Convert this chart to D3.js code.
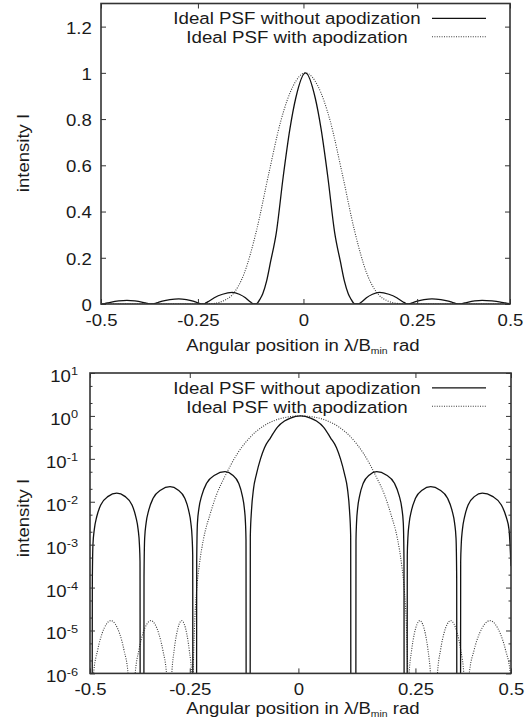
<!DOCTYPE html>
<html>
<head>
<meta charset="utf-8">
<script src="https://cdn.jsdelivr.net/npm/d3@7"></script>
<style>
body{margin:0;background:#fff}
svg text{font-family:"Liberation Sans",Arial,Helvetica,sans-serif;fill:#1a1a1a}
</style>
</head>
<body>
<svg id="chart" width="529" height="723"></svg>
<script>
// values
var xTickPos = [-0.5, -0.263, -0.005, 0.273, 0.5]
var xTickLabels = ["-0.5","-0.25","0","0.25","0.5"]
var linTicks = [0,0.2,0.4,0.6,0.8,1,1.2]
var linTickLabels = ["0","0.2","0.4","0.6","0.8","1","1.2"]
var logExps = [1,0,-1,-2,-3,-4,-5,-6]
var logMinor = [2,5]
var seriesNames = ["Ideal PSF without apodization","Ideal PSF with apodization"]

// angular position, and log10 of the intensity
var posNoApod = [-0.5,-0.49495,-0.49448,-0.49303,-0.48984,-0.48405,-0.47419,-0.45681,-0.43653,-0.41714,-0.40054,-0.39114,-0.38561,-0.38257,-0.38119,-0.38071,
    -0.37216,-0.37169,-0.37014,-0.36675,-0.36057,-0.35008,-0.33155,-0.30994,-0.29106,-0.27488,-0.26574,-0.26035,-0.25738,-0.25603,-0.25555,
    -0.24700,-0.24653,-0.24484,-0.24116,-0.23444,-0.22301,-0.20283,-0.17931,-0.16186,-0.14689,-0.13842,-0.13343,-0.13067,-0.12944,-0.12896,
    -0.1197,-0.1192,-0.1164,-0.1116,-0.1045,-0.0950,-0.0855,-0.0713,-0.0546,-0.0380,-0.0238,0,
    0.0238,0.0380,0.0546,0.0713,0.0855,0.0950,0.1045,0.1116,0.1164,0.1192,0.1197,
    0.13134,0.13181,0.13305,0.13576,0.14067,0.14903,0.16378,0.18098,0.20368,0.22313,0.23415,0.24064,0.24420,0.24581,0.24629,
    0.25318,0.25365,0.25503,0.25809,0.26365,0.27310,0.28977,0.30923,0.33084,0.34936,0.35986,0.36604,0.36943,0.37098,0.37145,
    0.38000,0.38048,0.38176,0.38458,0.38971,0.39843,0.41382,0.43178,0.45598,0.47671,0.48844,0.49535,0.5]
var expNoApod = [-8,-8,-3.90,-3.00,-2.65,-2.35,-2.07,-1.875,-1.80,-1.875,-2.07,-2.35,-2.65,-3.00,-3.40,-8,
    -8,-3.75,-2.85,-2.50,-2.20,-1.92,-1.725,-1.65,-1.725,-1.92,-2.20,-2.50,-2.85,-3.25,-8,
    -8,-3.40,-2.50,-2.15,-1.85,-1.57,-1.375,-1.30,-1.375,-1.57,-1.85,-2.15,-2.50,-2.90,-8,
    -8,-2.8,-2.2,-1.7,-1.35,-1.0,-0.74,-0.51,-0.26,-0.12,-0.05,0,
    -0.05,-0.12,-0.26,-0.51,-0.74,-1.0,-1.35,-1.7,-2.2,-2.8,-8,
    -8,-2.90,-2.50,-2.15,-1.85,-1.57,-1.375,-1.30,-1.375,-1.57,-1.85,-2.15,-2.50,-3.40,-8,
    -8,-3.25,-2.85,-2.50,-2.20,-1.92,-1.725,-1.65,-1.725,-1.92,-2.20,-2.50,-2.85,-3.75,-8,
    -8,-3.40,-3.00,-2.65,-2.35,-2.07,-1.875,-1.80,-1.875,-2.07,-2.35,-2.65,-3.5]

var posApod = [-0.5,
    -0.4921,-0.4817,-0.4713,-0.4610,-0.4505,-0.4401,-0.4298,-0.4194,-0.4090,-0.4011,
    -0.3931,-0.3837,-0.3742,-0.3649,-0.3554,-0.3459,-0.3367,-0.3272,-0.3178,-0.3118,
    -0.3059,-0.3000,-0.2940,-0.2881,-0.2822,-0.2762,-0.2703,-0.2643,-0.2584,-0.2572,
    -0.2560,-0.2550,-0.2520,-0.2470,-0.2400,-0.2300,-0.2150,-0.2000,-0.1800,-0.1500,-0.1200,-0.0900,-0.0600,-0.0300,0,
    0.0300,0.0600,0.0900,0.1200,0.1500,0.1800,0.2000,0.2150,0.2300,0.2400,0.2470,0.2520,0.2550,0.2560,
    0.2577,0.2641,0.2705,0.2769,0.2835,0.2900,0.2964,0.3028,0.3092,0.3171,
    0.3249,0.3327,0.3407,0.3487,0.3566,0.3646,0.3725,0.3805,0.3883,0.3943,
    0.4002,0.4125,0.4251,0.4375,0.4498,0.4622,0.4745,0.4869,0.4992,0.5]
var expApod = [-8,
    -6.07,-5.45,-5.07,-4.85,-4.77,-4.85,-5.07,-5.45,-6.07,-8,
    -6.07,-5.45,-5.07,-4.85,-4.77,-4.85,-5.07,-5.45,-6.07,-8,
    -6.07,-5.45,-5.07,-4.85,-4.77,-4.85,-5.07,-5.45,-6.07,-8,
    -8,-6.2,-5.0,-4.1,-3.45,-2.85,-2.3,-1.85,-1.42,-0.88,-0.50,-0.25,-0.10,-0.025,0,
    -0.025,-0.10,-0.25,-0.50,-0.88,-1.42,-1.85,-2.3,-2.85,-3.45,-4.1,-5.0,-6.2,-8,
    -6.07,-5.45,-5.07,-4.85,-4.77,-4.85,-5.07,-5.45,-6.07,-8,
    -6.07,-5.45,-5.07,-4.85,-4.77,-4.85,-5.07,-5.45,-6.07,-8,
    -6.07,-5.45,-5.07,-4.85,-4.77,-4.85,-5.07,-5.45,-6.07,-6.3]

var svg = d3.select("#chart")
var sx = 1.16   // the original font is wider than Arial

var panels = [
    {left:101, right:510, top:3.5, bottom:304, log:false, labelY:153, xLabelBase:350.5},
    {left:90, right:511, top:373, bottom:673.4, log:true, labelY:518, xLabelBase:713.5}
]

function drawPanel(p, idx){
    var x = d3.scaleLinear().domain([-0.5,0.5]).range([p.left,p.right])
    var y
    if(p.log){
        y = d3.scaleLog().domain([1e-6,10]).range([p.bottom,p.top])
    }else{
        y = d3.scaleLinear().domain([0,1.3]).range([p.bottom,p.top])
    }
    var g = svg.append("g")

    g.append("clipPath").attr("id","clip"+idx)
        .append("rect")
        .attr("x",p.left).attr("y",p.top)
        .attr("width",p.right-p.left).attr("height",p.bottom-p.top)

    var line = d3.line()
        .x(function(d){return x(d[0])})
        .y(function(d){return y(Math.pow(10,d[1]))})
        .curve(d3.curveMonotoneX)

    var curves = g.append("g").attr("clip-path","url(#clip"+idx+")")
    curves.append("path").datum(d3.zip(posApod,expApod))
        .attr("d",line).attr("fill","none")
        .attr("stroke","#3a3a3a").attr("stroke-width",1.1).attr("stroke-dasharray","1 1.4")
    curves.append("path").datum(d3.zip(posNoApod,expNoApod))
        .attr("d",line).attr("fill","none")
        .attr("stroke","#111").attr("stroke-width",1.3)

    // x axis, bottom with labels, top mirrored
    var xa = g.append("g").attr("transform","translate(0,"+p.bottom+")")
        .call(d3.axisBottom(x).tickValues(xTickPos)
            .tickFormat(function(d,i){return xTickLabels[i]})
            .tickSizeInner(-5).tickSizeOuter(0))
    g.append("g").attr("transform","translate(0,"+p.top+")")
        .call(d3.axisTop(x).tickValues(xTickPos).tickFormat("")
            .tickSizeInner(-5).tickSizeOuter(0))

    var ya, yr
    if(p.log){
        var majors = logExps.map(function(e){return Math.pow(10,e)})
        var minors = []
        for(var e=-6;e<1;e++){
            logMinor.forEach(function(m){minors.push(m*Math.pow(10,e))})
        }
        g.append("g").attr("transform","translate("+p.left+",0)")
            .call(d3.axisLeft(y).tickValues(minors).tickFormat("").tickSizeInner(-2.5).tickSizeOuter(0))
        g.append("g").attr("transform","translate("+p.right+",0)")
            .call(d3.axisRight(y).tickValues(minors).tickFormat("").tickSizeInner(-2.5).tickSizeOuter(0))
        ya = g.append("g").attr("transform","translate("+p.left+",0)")
            .call(d3.axisLeft(y).tickValues(majors).tickFormat("").tickSizeInner(-5).tickSizeOuter(0))
        yr = g.append("g").attr("transform","translate("+p.right+",0)")
            .call(d3.axisRight(y).tickValues(majors).tickFormat("").tickSizeInner(-5).tickSizeOuter(0))
        ya.selectAll(".tick text").each(function(d){
            var t = d3.select(this)
            t.text("10").attr("x",-12/sx).attr("dy",null).attr("y",8.5)
                .attr("transform","scale("+sx+",1)")
            t.append("tspan").attr("dy",-6.7).attr("font-size",11)
                .text(Math.round(Math.log10(d)))
        })
    }else{
        ya = g.append("g").attr("transform","translate("+p.left+",0)")
            .call(d3.axisLeft(y).tickValues(linTicks)
                .tickFormat(function(d,i){return linTickLabels[i]})
                .tickSizeInner(-5).tickSizeOuter(0))
        yr = g.append("g").attr("transform","translate("+p.right+",0)")
            .call(d3.axisRight(y).tickValues(linTicks).tickFormat("")
                .tickSizeInner(-5).tickSizeOuter(0))
        ya.selectAll(".tick text").attr("x",-9.3/sx).attr("dy","0.4em")
            .attr("transform","scale("+sx+",1)")
    }
    xa.selectAll(".tick text").attr("y",22).attr("dy",null)
        .attr("transform","scale("+sx+",1)")

    g.selectAll(".domain").remove()
    g.selectAll(".tick line").attr("stroke","#333")
    g.selectAll(".tick text").attr("font-size",null)
    g.selectAll("g").attr("font-size",16).attr("font-family",null)

    g.append("rect")
        .attr("x",p.left).attr("y",p.top)
        .attr("width",p.right-p.left).attr("height",p.bottom-p.top)
        .attr("fill","none").attr("stroke","#333").attr("stroke-width",1.6)

    // legend
    var leg = g.append("g")
    seriesNames.forEach(function(name,i){
        leg.append("g").attr("transform","translate(297,"+(p.top+20.5+i*19.3)+")")
            .append("text").attr("text-anchor","middle").attr("font-size",17)
            .attr("transform","scale(1.1,1)").text(name)
        var s = leg.append("line")
            .attr("x1",432).attr("x2",486)
            .attr("y1",p.top+14.8+i*18.4).attr("y2",p.top+14.8+i*18.4)
        if(i==0){
            s.attr("stroke","#111").attr("stroke-width",1.3)
        }else{
            s.attr("stroke","#3a3a3a").attr("stroke-width",1.1).attr("stroke-dasharray","1 1.4")
        }
    })

    // axis titles
    var xl = g.append("g").attr("transform","translate(303,"+p.xLabelBase+")")
        .append("text").attr("text-anchor","middle").attr("font-size",16)
        .attr("transform","scale("+sx+",1)")
    xl.append("tspan").text("Angular position in \u03bb/B")
    xl.append("tspan").attr("font-size",9).attr("dy",3).text("min")
    xl.append("tspan").attr("dy",-3).text(" rad")

    g.append("g").attr("transform","translate(29,"+p.labelY+") rotate(-90)")
        .append("text").attr("text-anchor","middle").attr("font-size",16)
        .attr("transform","scale("+sx+",1)")
        .text("intensity I")
}

panels.forEach(function(p,i){
    drawPanel(p,i)
})
</script>
</body>
</html>
